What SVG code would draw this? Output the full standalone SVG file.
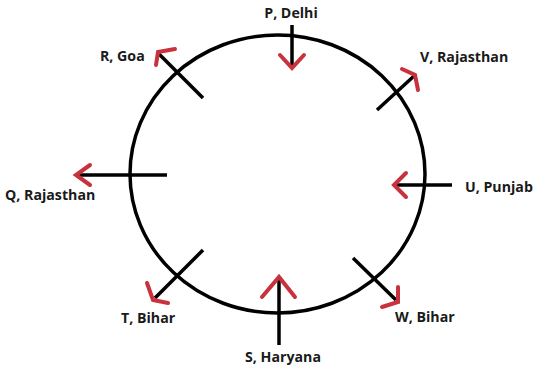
<svg xmlns="http://www.w3.org/2000/svg" width="539" height="368" viewBox="0 0 539 368">
<style>
.ln{stroke:#000;stroke-width:3.5;fill:none;stroke-linecap:butt}
.hd{stroke:#c8323c;stroke-width:4;fill:none;stroke-linecap:round;stroke-linejoin:miter}
.t{font-family:"Open Sans","Liberation Sans",sans-serif;font-weight:bold;font-size:14.2px;fill:#1a1a1a}
</style>
<rect width="539" height="368" fill="#fff"/>
<g id="circle"><ellipse cx="277.5" cy="174" rx="147.5" ry="139" class="ln"/></g>
<g id="connectors">
<line x1="292" y1="25" x2="292" y2="67" class="ln"/>
<polyline points="280,55 292,68 304,55" class="hd"/>
<line x1="203" y1="98" x2="159" y2="54" class="ln"/>
<polyline points="175,49 158,52 156,65" class="hd"/>
<line x1="377" y1="110" x2="414" y2="76" class="ln"/>
<polyline points="402,69 415,75 418,90" class="hd"/>
<line x1="167" y1="175" x2="77" y2="175" class="ln"/>
<polyline points="90,165 76,175 90,185" class="hd"/>
<line x1="452" y1="185" x2="395" y2="185" class="ln"/>
<polyline points="406,173 394,185 406,197" class="hd"/>
<line x1="203" y1="250" x2="155" y2="298" class="ln"/>
<polyline points="147,283 153,300 168,303" class="hd"/>
<line x1="279" y1="345" x2="279" y2="279" class="ln"/>
<polyline points="262,297 279,277 295,297" class="hd"/>
<line x1="353" y1="258" x2="396" y2="300" class="ln"/>
<polyline points="398,287 398,302 382,307" class="hd"/>
</g>
<g id="P"><text class="t" x="291" y="18" text-anchor="middle">P, Delhi</text></g>
<g id="R"><text class="t" x="100" y="61">R, Goa</text></g>
<g id="V"><text class="t" x="420" y="62">V, Rajasthan</text></g>
<g id="Q"><text class="t" x="5" y="200">Q, Rajasthan</text></g>
<g id="U"><text class="t" x="465" y="192">U, Punjab</text></g>
<g id="T"><text class="t" x="121" y="323">T, Bihar</text></g>
<g id="S"><text class="t" x="283" y="362" text-anchor="middle">S, Haryana</text></g>
<g id="W"><text class="t" x="395" y="322">W, Bihar</text></g>
</svg>
